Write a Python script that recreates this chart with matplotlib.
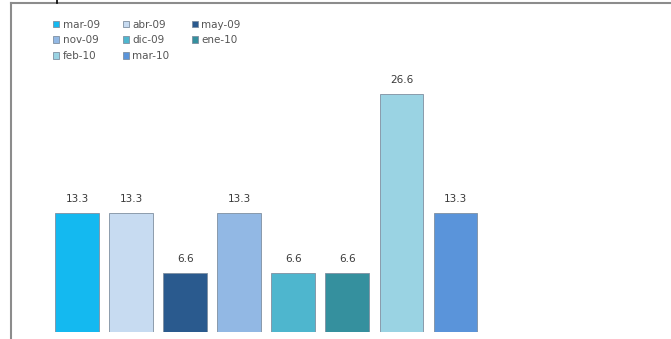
import matplotlib
matplotlib.use('Agg')
import matplotlib.pyplot as plt
from matplotlib.lines import Line2D

# data
months = ['mar-09', 'abr-09', 'may-09', 'nov-09', 'dic-09', 'ene-10', 'feb-10', 'mar-10']
values = [13.3, 13.3, 6.6, 13.3, 6.6, 6.6, 26.6, 13.3]
colors = ['#14B9F0', '#C7DBF1', '#2A5A8E', '#92B8E4', '#4EB6CE', '#35909E', '#9AD3E3', '#5A94DA']

fig = plt.figure(figsize=(6.71, 3.39), dpi=100)
ax = fig.add_axes([11/671, 7/339, 669/671, 329/339])

x = list(range(len(values)))
bars = ax.bar(x, values, width=0.81, color=colors, edgecolor='#7f8fa0', linewidth=0.6)

for xi, v in zip(x, values):
    ax.text(xi, v + 1.0, f'{v:.1f}', ha='center', va='bottom', fontsize=7.5, color='#3a3a3a')

ax.set_xlim(-1.22, 11.15)
ax.set_ylim(0, 36.8)
ax.set_xticks([])
ax.set_yticks([])
for s in ['right', 'bottom', 'left']:
    ax.spines[s].set_visible(False)
ax.spines['top'].set_color('#8c8c8c')
ax.spines['top'].set_linewidth(1.5)

# left border runs past the bottom of the picture
fig.add_artist(Line2D([11/671, 11/671], [0, 1 - 3/339], color='#8c8c8c', linewidth=1.5))

# legend filled row by row
order = [0, 3, 6, 1, 4, 7, 2, 5]
handles = [bars[i] for i in order]
labels = [months[i] for i in order]
leg = ax.legend(handles, labels, ncol=3, loc='upper left', bbox_to_anchor=(0.049, 0.978),
                frameon=False, fontsize=7.5, handlelength=0.6, handleheight=0.6,
                handletextpad=0.3, columnspacing=2.2, labelspacing=0.55, labelcolor='#555555')

# small tick above the frame
fig.add_artist(Line2D([57/671, 57/671], [1.0, 1 - 3/339], color='black', linewidth=1.2))

fig.savefig('out.png', dpi=100)
